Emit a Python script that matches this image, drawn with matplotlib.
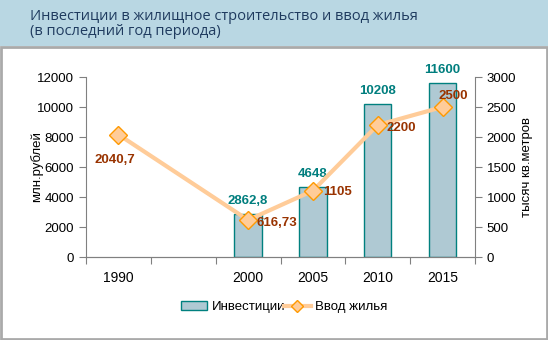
import numpy as np
import matplotlib.pyplot as plt
from matplotlib.patches import Rectangle, Patch
from matplotlib.lines import Line2D

years = ["1990", "", "2000", "2005", "2010", "2015"]
invest = [np.nan, np.nan, 2862.8, 4648, 10208, 11600]
invest_labels = ["", "", "2862,8", "4648", "10208", "11600"]
housing = [2040.7, np.nan, 616.73, 1105, 2200, 2500]
housing_labels = ["2040,7", "", "616,73", "1105", "2200", "2500"]

plt.rcParams['font.family'] = ['Liberation Sans', 'DejaVu Sans']

fig = plt.figure(figsize=(5.48, 3.40), dpi=100)
fig.patch.set_facecolor('white')

# шапка и рамка
fig.patches.append(Rectangle((0, 1 - 46 / 340), 1, 46 / 340, transform=fig.transFigure,
                             facecolor='#b9d7e3', edgecolor='none', zorder=0))
fig.patches.append(Rectangle((1 / 548, 1 / 340), 546 / 548, (340 - 48) / 340, transform=fig.transFigure,
                             facecolor='none', edgecolor='#aaaaaa', linewidth=2, zorder=1))
fig.text(30 / 548, 1 - 24 / 340, "Инвестиции в жилищное строительство и ввод жилья\n(в последний год периода)",
         fontsize=10.5, family='Open Sans', color='#1f3b5f', va='center', ha='left', linespacing=1.05)

ax = fig.add_axes([86 / 548, 1 - 257 / 340, (475 - 86) / 548, (257 - 77) / 340])
ax2 = ax.twinx()

x = np.arange(len(years))
inv = np.array(invest, dtype=float)
hs = np.array(housing, dtype=float)

ax.bar(x, inv, width=0.42, color='#afc9d3', edgecolor='#00807f', linewidth=1, zorder=2)
for xi, v, lab in zip(x, inv, invest_labels):
    if lab:
        ax.annotate(lab, (xi, v), xytext=(0, 5), textcoords='offset points', ha='center', va='bottom',
                    color='#007e7e', fontsize=9.5, fontweight='bold')

m = ~np.isnan(hs)
ax2.plot(x[m], hs[m], color='#ffcc99', linewidth=3, marker='D', markersize=9,
         markerfacecolor='#ffcc99', markeredgecolor='#ff9900', markeredgewidth=1, zorder=3)
offsets = {0: (-17, -18), 2: (6, -2), 3: (7, -1), 4: (6, -2), 5: (-3, 8)}
for xi, v, lab in zip(x, hs, housing_labels):
    if lab:
        ax2.annotate(lab, (xi, v), xytext=offsets[xi], textcoords='offset points', ha='left', va='center',
                     color='#993300', fontsize=9.5, fontweight='bold')

ax.set_xlim(-0.5, len(years) - 0.5)
ax.set_ylim(0, 12000)
ax2.set_ylim(0, 3000)
ax.set_yticks(np.arange(0, 12001, 2000))
ax2.set_yticks(np.arange(0, 3001, 500))
ax.set_xticks(np.arange(-0.5, len(years), 1))
ax.set_xticklabels([])
ax.set_xticks(x, minor=True)
ax.set_xticklabels(years, minor=True)
ax.tick_params(axis='x', which='minor', length=0, pad=10)
ax.tick_params(axis='x', which='major', length=5, color='#808080')

for a in (ax, ax2):
    a.spines['top'].set_visible(False)
    for s in ('left', 'right', 'bottom'):
        a.spines[s].set_color('#808080')
    a.tick_params(axis='y', length=5, color='#808080', labelsize=9.5)
ax.tick_params(axis='x', labelsize=9.5)
ax2.spines['left'].set_visible(False)
ax.spines['right'].set_visible(False)

ax.set_ylabel("млн.рублей", fontsize=9.5, labelpad=-4)
ax2.set_ylabel("тысяч кв.метров", fontsize=9.5, labelpad=3)

h1 = Patch(facecolor='#afc9d3', edgecolor='#00807f')
h2 = Line2D([], [], color='#ffcc99', linewidth=3, marker='D', markersize=6,
            markerfacecolor='#ffcc99', markeredgecolor='#ff9900')
fig.legend([h1, h2], ['Инвестиции', 'Ввод жилья'], loc='center', bbox_to_anchor=(284 / 548, 1 - 307 / 340),
           ncol=2, frameon=False, fontsize=9.5, handlelength=2.0, handletextpad=0.3, columnspacing=-0.05)

fig.savefig('out.png', dpi=100)
